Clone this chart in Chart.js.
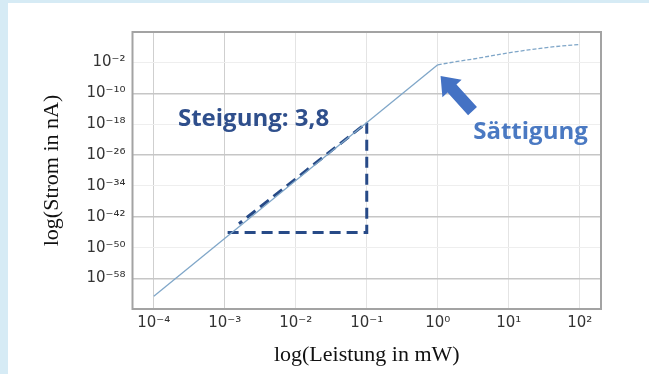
<!DOCTYPE html>
<html>
<head>
<meta charset="utf-8">
<script src="https://cdn.jsdelivr.net/npm/chart.js@4/dist/chart.umd.min.js"></script>
<style>
  html, body { margin: 0; padding: 0; background: #d6ebf5; }
  #panel { position: absolute; left: 8px; top: 3px; width: 641px; height: 371px; background: #fff; }
  canvas { display: block; }
</style>
</head>
<body>
<div id="panel"><canvas id="chartBox" width="641" height="371"></canvas></div>
<script>
// exponents (log10) of power in mW and current in nA
const powerExp   = [-4, 0, 0.25, 0.5, 0.75, 1, 1.25, 1.5, 1.75, 2];
const currentExp = [-62.6, -2.6, -1.8, -1.1, -0.3, 0.5, 1.2, 1.8, 2.3, 2.65];

// slope triangle (corner points in the same log units)
const triX = [-2.96, -1.0, -1.0, -2.8];
const triY = [-46.1, -46.1, -17.6, -43.8];

const xTicks = [-4, -3, -2, -1, 0, 1, 2];
const yTicks = [-58, -50, -42, -34, -26, -18, -10, -2];
const yMajor = [-58, -42, -26, -10];

const sup = { '-': '⁻', '0': '⁰', '1': '¹', '2': '²', '3': '³', '4': '⁴', '5': '⁵', '6': '⁶', '7': '⁷', '8': '⁸', '9': '⁹' };
function pow10(v) {
  return '10' + String(v).split('').map(c => sup[c]).join('');
}

const mainLine = powerExp.map((x, i) => ({ x: x, y: currentExp[i] }));
const triangle = triX.map((x, i) => ({ x: x, y: triY[i] }));

const extras = {
  id: 'extras',
  afterDraw(chart) {
    const c = chart.ctx;
    const xs = chart.scales.x, ys = chart.scales.y;
    const a = chart.chartArea;

    // frame
    c.save();
    c.strokeStyle = '#a3a3a3';
    c.lineWidth = 2;
    c.strokeRect(a.left, a.top, a.right - a.left, a.bottom - a.top);

    // labels
    c.textBaseline = 'middle';
    c.textAlign = 'left';
    c.font = 'bold 24px "Open Sans"';
    c.fillStyle = '#2f4f8c';
    c.fillText('Steigung: 3,8', xs.getPixelForValue(-3.66), ys.getPixelForValue(-16.6));
    c.fillStyle = '#4a79c2';
    c.fillText('Sättigung', xs.getPixelForValue(0.5), ys.getPixelForValue(-20.0));

    // arrow
    const tx = xs.getPixelForValue(0.04), ty = ys.getPixelForValue(-5.5);
    const ex = xs.getPixelForValue(0.49), ey = ys.getPixelForValue(-14.6);
    const ang = Math.atan2(ty - ey, tx - ex);
    const len = Math.hypot(tx - ex, ty - ey);
    c.translate(ex, ey);
    c.rotate(ang);
    c.fillStyle = '#4472c4';
    c.beginPath();
    c.moveTo(0, -6);
    c.lineTo(len - 17, -6);
    c.lineTo(len - 17, -13);
    c.lineTo(len, 0);
    c.lineTo(len - 17, 13);
    c.lineTo(len - 17, 6);
    c.lineTo(0, 6);
    c.closePath();
    c.fill();
    c.restore();
  }
};

new Chart(document.getElementById('chartBox'), {
  type: 'scatter',
  data: {
    datasets: [
      {
        data: mainLine,
        showLine: true,
        borderColor: '#7fa6c8',
        borderWidth: 1.3,
        pointRadius: 0,
        tension: 0,
        segment: {
          borderDash: ctx => ctx.p0.parsed.x >= 0 ? [4, 2] : undefined
        }
      },
      {
        data: triangle,
        showLine: true,
        borderColor: '#274a87',
        borderWidth: 3,
        borderDash: [11, 6],
        pointRadius: 0,
        tension: 0
      }
    ]
  },
  options: {
    responsive: false,
    animation: false,
    layout: { padding: { left: 31, right: 48, top: 29, bottom: 0 } },
    plugins: { legend: { display: false }, tooltip: { enabled: false } },
    scales: {
      x: {
        type: 'linear',
        min: -4.3,
        max: 2.3,
        afterBuildTicks: s => { s.ticks = xTicks.map(v => ({ value: v })); },
        afterFit: s => { s.height = 65; },
        ticks: {
          padding: 5,
          color: '#333',
          font: { family: '"DejaVu Sans"', size: 15 },
          callback: v => pow10(v)
        },
        grid: {
          drawTicks: false,
          color: ctx => (ctx.tick && ctx.tick.value <= -3) ? '#cfcfcf' : '#e4e4e4'
        },
        border: { display: false },
        title: {
          display: true,
          text: 'log(Leistung in mW)',
          color: '#111',
          font: { family: '"Liberation Serif"', size: 22 },
          padding: { top: 0, bottom: 6 }
        }
      },
      y: {
        type: 'linear',
        min: -65.9,
        max: 5.9,
        afterBuildTicks: s => { s.ticks = yTicks.map(v => ({ value: v })); },
        afterFit: s => { s.width = 93.5; },
        ticks: {
          padding: 7,
          color: '#333',
          font: { family: '"DejaVu Sans"', size: 15 },
          callback: v => pow10(v)
        },
        grid: {
          drawTicks: false,
          color: ctx => (ctx.tick && yMajor.includes(ctx.tick.value)) ? '#c6c6c6' : '#eeeeee',
          lineWidth: ctx => (ctx.tick && yMajor.includes(ctx.tick.value)) ? 1.5 : 1
        },
        border: { display: false },
        title: {
          display: true,
          text: 'log(Strom in nA)',
          color: '#111',
          font: { family: '"Liberation Serif"', size: 22 },
          padding: { top: 0, bottom: 0 }
        }
      }
    }
  },
  plugins: [extras]
});
</script>
</body>
</html>
